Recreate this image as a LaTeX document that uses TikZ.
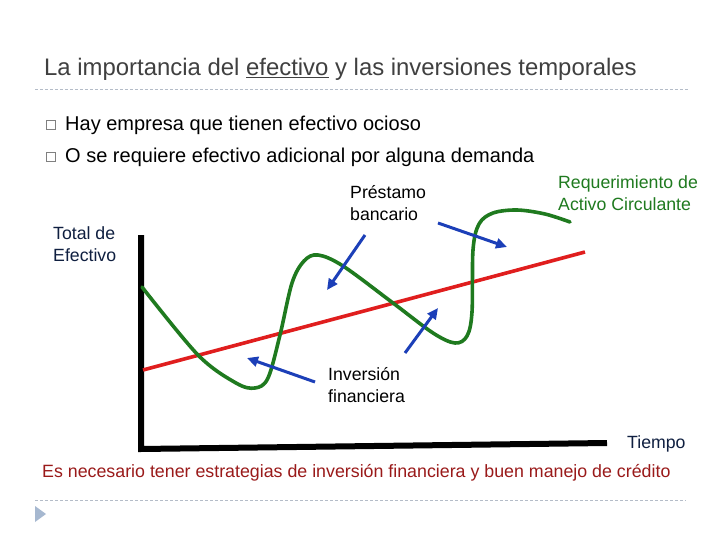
\documentclass[tikz,border=0pt]{standalone}
\usepackage{fontspec}
\setmainfont{Liberation Sans}
\usetikzlibrary{arrows.meta}
\definecolor{titlegray}{HTML}{404040}
\definecolor{dashc}{HTML}{B4BCC8}
\definecolor{curvegreen}{HTML}{1F7A1F}
\definecolor{linered}{HTML}{E01E1E}
\definecolor{arrowblue}{HTML}{1C3FB8}
\definecolor{navy}{HTML}{0F1F40}
\definecolor{darkred}{HTML}{9A1A1A}
\definecolor{trifill}{HTML}{A6B8D0}
\definecolor{boxgray}{HTML}{808080}
\begin{document}
\begin{tikzpicture}[x=1pt,y=-1pt,
  lbl/.style={font=\fontsize{17.7}{21}\selectfont, inner sep=0pt, anchor=base west},
  bul/.style={font=\fontsize{20}{24}\selectfont, inner sep=0pt, anchor=base west},
  sepline/.style={dashc, line width=1pt, dash pattern=on 3pt off 2pt},
  axisline/.style={line width=6pt, black},
  callout/.style={arrowblue, line width=3pt, -{Triangle[length=11pt,width=10pt]}},
  bulbox/.style={draw=boxgray, line width=0.8pt, minimum size=9pt, inner sep=0pt}]
\useasboundingbox (0,0) rectangle (720,540);
\fill[white] (0,0) rectangle (720,540);

% title
\node[inner sep=0pt, anchor=base west, text=titlegray, font=\fontsize{23.9}{28}\selectfont] (title) at (44,76)
  {La importancia del \underline{efectivo} y las inversiones temporales};
\draw[sepline] (35,90) -- (688,90);

% bullets
\node[bulbox] (b1) at (50.5,125) {};
\node[bul] (t1) at (65,131) {Hay empresa que tienen efectivo ocioso};
\node[bulbox] (b2) at (50.5,157) {};
\node[bul] (t2) at (65,163) {O se requiere efectivo adicional por alguna demanda};

% axes
\coordinate (ytop) at (141,235);
\coordinate (orig) at (141,449);
\coordinate (xend) at (607,443);
\draw[axisline] (ytop) -- (orig) -- (xend);

% red line
\coordinate (r0) at (143,370);
\coordinate (r1) at (585,252);
\draw[linered, line width=3.6pt] (r0) -- (r1);

% green curve
\draw[curvegreen, line width=3.6pt, line cap=round] plot[smooth, tension=0.55] coordinates {
  (142,287) (198,355) (236,383) (255,388) (268,378) (280,335) (292,283) (304,261) (318,255)
  (343,266) (393,303) (433,333) (455,343) (467,336) (472,312) (473,250) (479,224) (493,213)
  (517,210) (545,214) (570,222)};

% labels
\node[lbl, text=navy] (tot1) at (53,240) {Total de};
\node[lbl, text=navy] (tot2) at (53,261) {Efectivo};
\node[lbl] (pre1) at (350,199) {Préstamo};
\node[lbl] (pre2) at (350,221) {bancario};
\node[lbl, text=curvegreen] (req1) at (558,189) {Requerimiento de};
\node[lbl, text=curvegreen] (req2) at (558,211) {Activo Circulante};
\node[lbl] (inv1) at (328,380) {Inversión};
\node[lbl] (inv2) at (328,402) {financiera};
\node[lbl, text=navy] (tiempo) at (627,448) {Tiempo};

% callout arrows
\coordinate (a1s) at (365,235); \coordinate (a1e) at (327,290);
\coordinate (a2s) at (438,223); \coordinate (a2e) at (507,247);
\coordinate (a3s) at (315,382); \coordinate (a3e) at (247,358);
\coordinate (a4s) at (405,353); \coordinate (a4e) at (438,308);
\draw[callout] (a1s) -- (a1e);
\draw[callout] (a2s) -- (a2e);
\draw[callout] (a3s) -- (a3e);
\draw[callout] (a4s) -- (a4e);

% bottom
\node[lbl, text=darkred, font=\fontsize{17.8}{21}\selectfont] (concl) at (42,477)
  {Es necesario tener estrategias de inversión financiera y buen manejo de crédito};
\draw[sepline] (35,500) -- (686,500);
\fill[trifill] (35,506) -- (46,514) -- (35,522) -- cycle;
\end{tikzpicture}
\end{document}
